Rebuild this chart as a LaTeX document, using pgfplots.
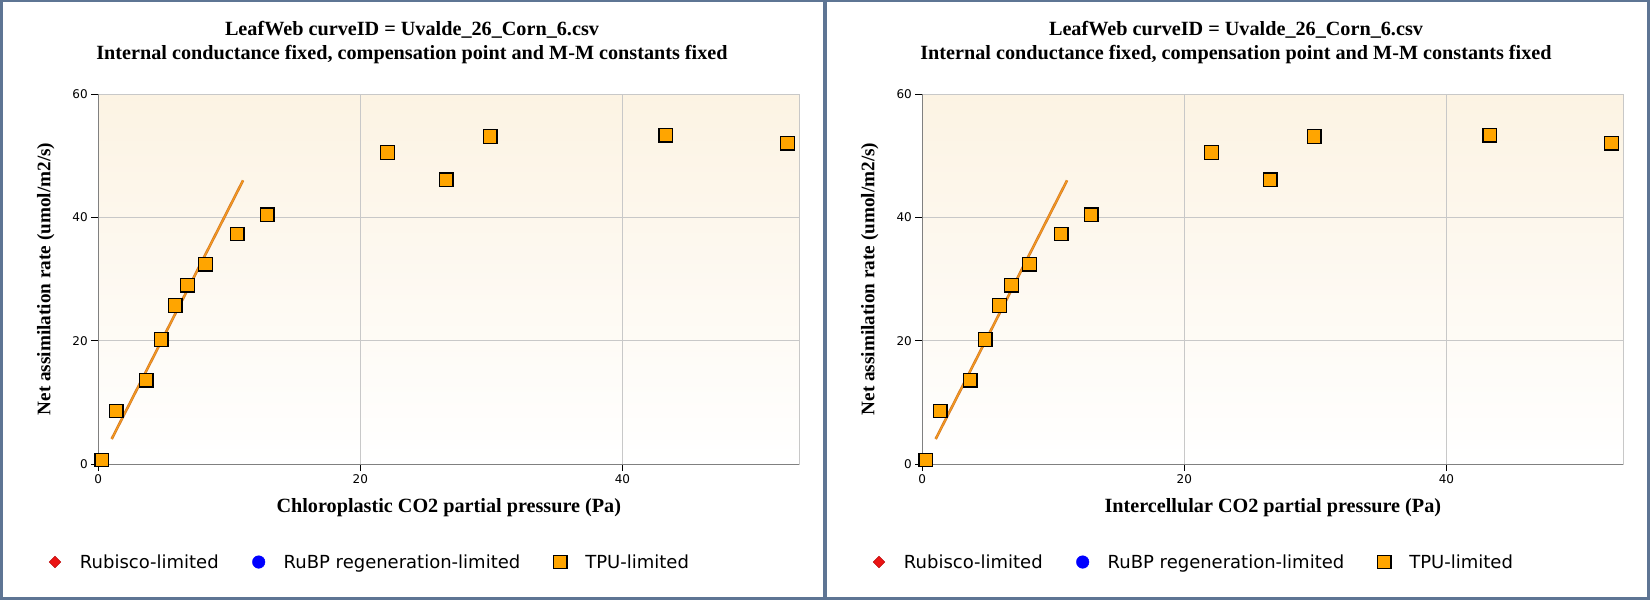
\documentclass[border=0pt]{standalone}
\usepackage{fontspec}
\setmainfont{Liberation Serif}
\newfontfamily\tahoma{DejaVu Sans}
\usepackage{pgfplots}
\pgfplotsset{compat=1.18}
\usepackage{pgfplotstable}
\definecolor{frame}{RGB}{94,117,148}
\definecolor{bgtop}{RGB}{252,243,227}
\definecolor{tpu}{RGB}{255,165,0}
\definecolor{fitedge}{RGB}{210,120,40}
\definecolor{fitline}{RGB}{245,155,30}
\definecolor{gridc}{RGB}{200,200,200}
\definecolor{axc}{RGB}{128,128,128}
\definecolor{rub}{RGB}{235,20,20}

\pgfplotstableread{
x y
0.26 0.65
1.37 8.6
3.66 13.6
4.81 20.2
5.88 25.7
6.80 29.0
8.17 32.4
10.61 37.3
12.9 40.4
22.06 50.5
26.56 46.1
29.9 53.1
43.3 53.3
52.6 52.0
}\tpudata
\pgfplotstableread{
x y
1.02 4.05
11.05 46.0
}\fitdata

\pgfplotsset{
  myleg/.style={legend image code/.code={%
    \path[draw=none,fill=none] (-7pt,0pt) -- (25pt,0pt);
    \draw[##1] plot coordinates {(0pt,0pt)};}},
  leafstyle/.style={
  scale only axis, width=701pt, height=370pt,
  xmin=0, xmax=53.5, ymin=0, ymax=60,
  xtick={0,20,40}, ytick={0,20,40,60},
  grid=major, major grid style={gridc, line width=1pt},
  axis x line*=bottom, axis y line*=left,
  axis line style={axc, line width=1pt, -},
  tick align=outside, tick style={black, line width=1pt},
  major tick length=7pt,
  tick label style={font=\tahoma\fontsize{12}{14}\selectfont},
  /pgf/number format/assume math mode=true,
  axis background/.style={shade, top color=bgtop, bottom color=white, draw=gridc, line width=1pt},
  xlabel style={font=\bfseries\fontsize{20.2}{22}\selectfont, at={(axis description cs:0.5,-0.1316)}, anchor=base},
  ylabel style={font=\bfseries\fontsize{19.2}{22}\selectfont, at={(axis description cs:-0.0682,0.5)}, anchor=base},
  ylabel={Net assimilation rate (umol/m2/s)},
  legend columns=3,
  legend cell align=left,
  legend style={draw=none, fill=none, at={(axis description cs:-0.0718,-0.2649)}, anchor=west,
    inner sep=0pt, outer sep=0pt,
    nodes={inner sep=0pt, font=\tahoma\fontsize{18}{20}\selectfont},
    /tikz/every even column/.append style={column sep=33pt}},
}}

\newcommand\panel[3]{%
  \begin{axis}[leafstyle, at={(#1,136pt)}, anchor=south west, xlabel={#2}]
    \addplot[fitedge, line width=2.6pt, forget plot] table[x=x,y=y] {\fitdata};
    \addplot[fitline, line width=1.2pt, forget plot] table[x=x,y=y] {\fitdata};
    \addlegendimage{only marks, mark=square*, mark size=4.1pt, mark options={rotate=45, fill=rub, draw=rub!80!black, line width=0.5pt}, myleg}
    \addlegendentry{\strut Rubisco-limited}
    \addlegendimage{only marks, mark=*, mark size=6.3pt, mark options={fill=blue, draw=blue}, myleg}
    \addlegendentry{\strut RuBP regeneration-limited}
    \addplot[only marks, mark=square*, mark size=6.8pt, mark options={fill=tpu, draw=black, line width=1.3pt}, myleg] table[x=x,y=y] {\tpudata};
    \addlegendentry{\strut TPU-limited}
  \end{axis}
  \node[anchor=base, font=\bfseries\fontsize{20.2}{22}\selectfont] at (#3,564pt) {LeafWeb curveID = Uvalde\_26\_Corn\_6.csv};
  \node[anchor=base, font=\bfseries\fontsize{20.2}{22}\selectfont] at (#3,540.7pt) {Internal conductance fixed, compensation point and M-M constants fixed};
}

\begin{document}
\begin{tikzpicture}[x=1pt,y=1pt]
  \fill[frame] (0,0) rectangle (1650,600);
  \fill[white] (2.5,2.5) rectangle (823,598);
  \fill[white] (827,2.5) rectangle (1647,598);
  \panel{98.3pt}{Chloroplastic CO2 partial pressure (Pa)}{412pt}
  \panel{922.3pt}{Intercellular CO2 partial pressure (Pa)}{1236pt}
\end{tikzpicture}
\end{document}
